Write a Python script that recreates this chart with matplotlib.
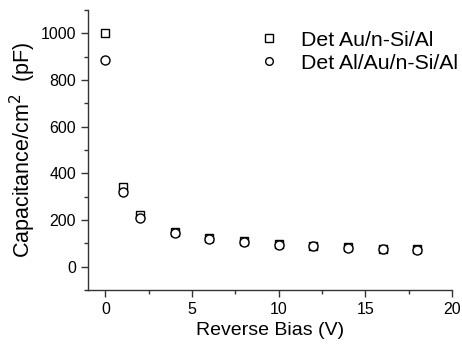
import matplotlib
matplotlib.use('Agg')
import matplotlib.pyplot as plt
from matplotlib.ticker import MultipleLocator

# reverse bias (V)
bias = [0, 1, 2, 4, 6, 8, 10, 12, 14, 16, 18]
# capacitance per cm^2 (pF)
cap_au = [1000, 342, 221, 150, 124, 108, 96, 88, 83, 77, 74]
cap_alau = [887, 318, 209, 143, 118, 104, 94, 87, 82, 76, 73]
labels = ['Det Au/n-Si/Al', 'Det Al/Au/n-Si/Al']

plt.rcParams['font.family'] = ['Liberation Sans', 'DejaVu Sans']

fig = plt.figure(figsize=(4.62, 3.44), dpi=100)
ax = fig.add_axes([0.1905, 0.157, 0.7875, 0.814])

ax.plot(bias, cap_au, linestyle='none', marker='s', markersize=6,
        markerfacecolor='white', markeredgecolor='black', markeredgewidth=1.0,
        label=labels[0])
ax.plot(bias, cap_alau, linestyle='none', marker='o', markersize=6.5,
        markerfacecolor='white', markeredgecolor='black', markeredgewidth=1.0,
        label=labels[1])

ax.set_xlim(-1, 20)
ax.set_ylim(-100, 1100)
ax.xaxis.set_major_locator(MultipleLocator(5))
ax.xaxis.set_minor_locator(MultipleLocator(2.5))
ax.yaxis.set_major_locator(MultipleLocator(200))
ax.yaxis.set_minor_locator(MultipleLocator(100))

for side in ['top', 'right']:
    ax.spines[side].set_visible(False)
for side in ['left', 'bottom']:
    ax.spines[side].set_linewidth(1.0)
    ax.spines[side].set_color('#333333')

ax.tick_params(which='major', direction='out', length=5, width=1, labelsize=11.5, color='#333333')
ax.tick_params(which='minor', direction='out', length=3, width=1, color='#333333')

ax.set_xlabel('Reverse Bias (V)', fontsize=14, labelpad=4)
ax.set_ylabel('Capacitance/cm$^{2}$  (pF)', fontsize=15.5, labelpad=2)

ax.legend(loc='upper right', bbox_to_anchor=(1.07, 0.995), frameon=False,
          fontsize=15.3, handletextpad=0.5, labelspacing=0.2, markerscale=0.85)

fig.savefig('out.png', dpi=100)
